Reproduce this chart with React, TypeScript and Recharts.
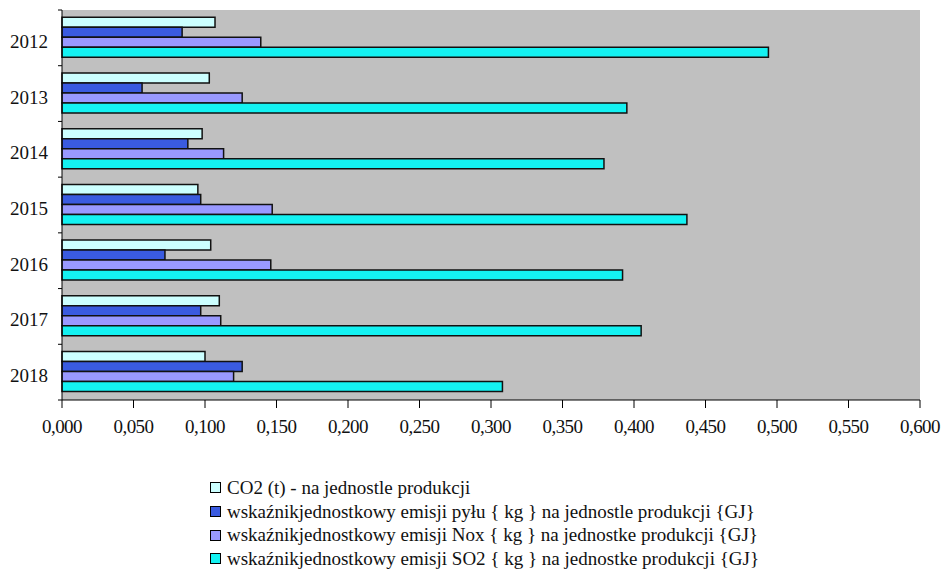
import React from 'react';
import { BarChart, Bar, XAxis, YAxis, CartesianGrid, Legend } from 'recharts';

const years = ['2012', '2013', '2014', '2015', '2016', '2017', '2018'];
const co2 = [0.107, 0.103, 0.098, 0.095, 0.104, 0.11, 0.1];
const pyl = [0.084, 0.056, 0.088, 0.097, 0.072, 0.097, 0.126];
const nox = [0.139, 0.126, 0.113, 0.147, 0.146, 0.111, 0.12];
const so2 = [0.494, 0.395, 0.379, 0.437, 0.392, 0.405, 0.308];

const xTicks = [0, 0.05, 0.1, 0.15, 0.2, 0.25, 0.3, 0.35, 0.4, 0.45, 0.5, 0.55, 0.6];

const names = [
  'CO2 (t) - na jednostle produkcji',
  'wskaźnikjednostkowy emisji pyłu { kg } na jednostle produkcji {GJ}',
  'wskaźnikjednostkowy emisji Nox { kg } na jednostke produkcji {GJ}',
  'wskaźnikjednostkowy emisji SO2 { kg } na jednostke produkcji {GJ}',
];
const colors = ['#CCFFFF', '#3A5BE0', '#9999FF', '#14F2F2'];

const data = years.map((y, i) => ({ year: y, co2: co2[i], pyl: pyl[i], nox: nox[i], so2: so2[i] }));

const font = '"Liberation Serif", "Times New Roman", serif';
const Y_MARGIN = 14;

const fmt = (v: number) => v.toFixed(3).replace('.', ',');

// x tick labels, serif and a little condensed like the original
const XTick = (props: any) => {
  const { x, y, payload } = props;
  return (
    <text x={x} y={y + 23} textAnchor="middle" fill="#111" fontFamily={font} fontSize={19} letterSpacing={-0.6}>
      {fmt(payload.value)}
    </text>
  );
};

// year label + small tick marks on the band boundaries (excel style)
const YTick = (props: any) => {
  const { x, y, payload, index, visibleTicksCount } = props;
  const half = payload.offset || 0;
  const ax = x + Y_MARGIN;
  return (
    <g>
      <line x1={ax - 4} x2={ax} y1={y - half} y2={y - half} stroke="#000" />
      {index === visibleTicksCount - 1 && <line x1={ax - 4} x2={ax} y1={y + half} y2={y + half} stroke="#000" />}
      <text x={x} y={y + 10} textAnchor="end" fill="#111" fontFamily={font} fontSize={19}>
        {payload.value}
      </text>
    </g>
  );
};

const renderLegend = (props: any) => {
  const items = [...props.payload].sort((a: any, b: any) => names.indexOf(a.value) - names.indexOf(b.value));
  return (
    <div style={{ fontFamily: font, fontSize: 19, color: '#111' }}>
      {items.map((entry: any) => (
        <div key={entry.value} style={{ display: 'flex', alignItems: 'center', height: 23.7, whiteSpace: 'nowrap' }}>
          <span
            style={{
              display: 'inline-block',
              width: 9,
              height: 9,
              background: entry.color,
              border: '1px solid #000',
              marginRight: 6,
            }}
          />
          <span>{entry.value}</span>
        </div>
      ))}
    </div>
  );
};

export default function App() {
  return (
    <div style={{ position: 'absolute', left: 0, top: 0, width: 944, height: 585, background: '#fff', fontFamily: font }}>
      <BarChart
        width={944}
        height={585}
        data={data}
        layout="vertical"
        margin={{ top: 10, right: 24, left: 0, bottom: 145 }}
        barCategoryGap="13%"
        barGap={0}
      >
        <CartesianGrid horizontal={false} vertical={false} fill="#C0C0C0" fillOpacity={1} />
        <XAxis
          type="number"
          domain={[0, 0.6]}
          ticks={xTicks}
          height={40}
          tickSize={8}
          interval={0}
          axisLine={{ stroke: '#000' }}
          tickLine={{ stroke: '#000' }}
          tick={<XTick />}
        />
        <XAxis
          xAxisId="top"
          orientation="top"
          type="number"
          domain={[0, 0.6]}
          height={0}
          tick={false}
          tickLine={false}
          axisLine={{ stroke: '#8C8C8C' }}
        />
        <YAxis
          type="category"
          dataKey="year"
          width={62}
          tickSize={0}
          tickMargin={Y_MARGIN}
          interval={0}
          tickLine={false}
          axisLine={{ stroke: '#000' }}
          tick={<YTick />}
        />
        <YAxis
          yAxisId="right"
          orientation="right"
          type="number"
          domain={[0, 1]}
          width={0}
          tick={false}
          tickLine={false}
          axisLine={{ stroke: '#8C8C8C' }}
        />
        <Legend
          layout="vertical"
          align="center"
          verticalAlign="middle"
          content={renderLegend}
          wrapperStyle={{ left: 210, top: 476, width: 640 }}
        />
        <Bar dataKey="co2" name={names[0]} fill={colors[0]} stroke="#111" strokeWidth={1.5} isAnimationActive={false} />
        <Bar dataKey="pyl" name={names[1]} fill={colors[1]} stroke="#111" strokeWidth={1.5} isAnimationActive={false} />
        <Bar dataKey="nox" name={names[2]} fill={colors[2]} stroke="#111" strokeWidth={1.5} isAnimationActive={false} />
        <Bar dataKey="so2" name={names[3]} fill={colors[3]} stroke="#111" strokeWidth={1.5} isAnimationActive={false} />
      </BarChart>
    </div>
  );
}
